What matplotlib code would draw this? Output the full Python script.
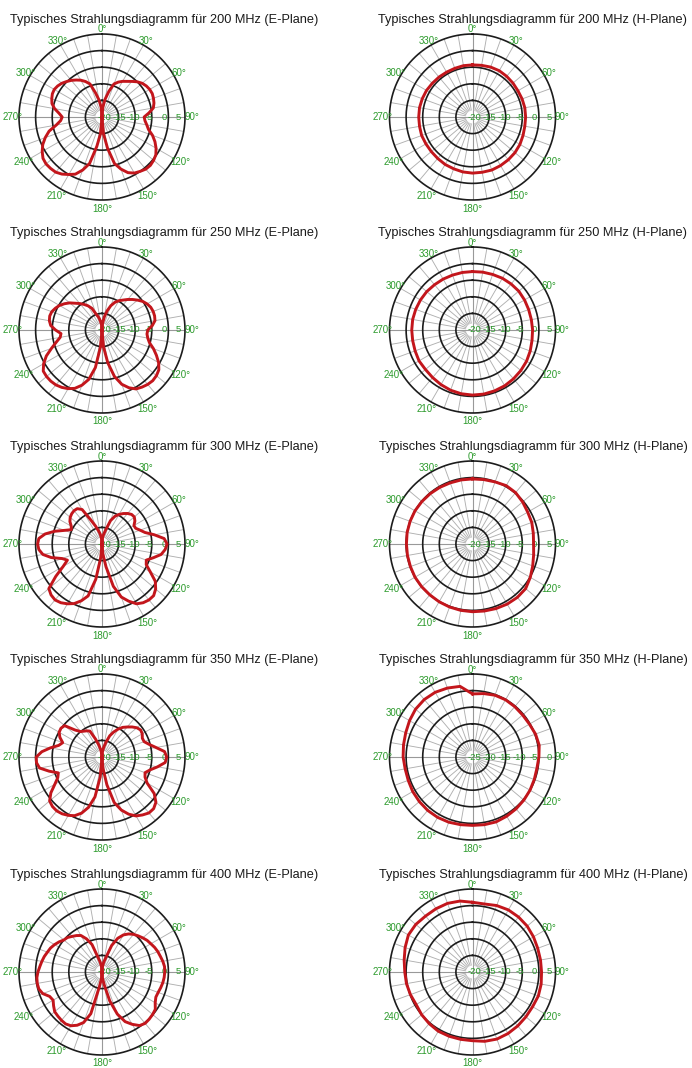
import numpy as np
import matplotlib
matplotlib.use("Agg")
import matplotlib.pyplot as plt

# ---------------- data (dB values) ----------------
angles_e = np.arange(0, 360, 5)     # E-plane sample angles (deg)
angles_h = np.arange(0, 360, 10)    # H-plane sample angles (deg)

e200 = [-20, -17, -14.5, -12, -9.4, -8.4, -7.6, -6.9, -6.0, -5.0, -4.2, -3.7, -3.4, -3.3, -3.5, -3.8, -4.3, -5.8,
        -7.3, -7.0, -6.3, -5.5, -3.8, -2.4, -1.2, -0.2, 0.3, 0.6, 0.5, 0.0, -0.5, -1.5, -3.3, -5.5, -10.5, -15,
        -20, -15, -11, -5.5, -3.0, -1.0, 0.0, 1.0, 1.7, 1.9, 2.0, 1.7, 0.8, -0.3, -1.8, -3.5, -6.0, -7.5,
        -8.0, -7.0, -5.5, -4.4, -3.9, -3.5, -3.4, -3.7, -4.2, -4.9, -5.6, -6.4, -7.2, -8.2, -9.4, -12.5, -14.8, -17]
e250 = [-20, -18, -16, -14, -12.2, -10.8, -9.8, -9.0, -8.0, -7.0, -6.0, -5.0, -4.3, -3.8, -3.6, -3.6, -3.8, -4.8,
        -6.2, -6.4, -6.0, -5.2, -3.5, -1.9, -0.3, 0.9, 1.4, 1.6, 1.4, 1.0, 0.5, -0.8, -2.6, -5.5, -10, -15,
        -20, -15, -8.5, -4.6, -2.3, -0.6, 0.4, 1.1, 1.6, 1.8, 1.8, 1.6, 0.3, -1.5, -3.8, -5.7, -7.2, -7.6,
        -6.0, -4.5, -3.9, -3.7, -3.9, -4.5, -5.2, -6.2, -7.3, -8.6, -9.6, -10.6, -11.6, -12.8, -15, -16, -17.2, -18.5]
e300 = [-20, -18, -17, -15.5, -12.5, -10.8, -9.7, -8.8, -8.0, -7.4, -7.3, -7.9, -8.9, -8.8, -7.8, -6.6, -4.0, -1.2,
        -0.4, -0.9, -1.9, -4.0, -5.8, -5.3, -3.2, -0.4, 1.1, 2.0, 2.0, 1.6, 0.8, -1.0, -3.0, -6.8, -13, -17,
        -20, -16, -9.2, -3.8, -1.8, -0.2, 0.8, 1.6, 2.0, 1.7, 0.9, -3.0, -6.5, -8.5, -7.2, -4.2, -1.9, -0.9,
        -0.6, -0.9, -2.6, -5.2, -8.0, -9.8, -9.3, -8.2, -7.5, -7.1, -6.9, -7.0, -8.0, -12.0, -14.2, -15.8, -17, -18.5]
e350 = [-20, -18.5, -17, -15.4, -13.2, -11.7, -10.3, -9.1, -8.2, -7.2, -6.3, -5.8, -6.0, -6.6, -6.5, -5.3, -3.5, -1.1,
        -0.5, -0.9, -3.0, -5.0, -6.2, -5.7, -4.3, -0.8, 1.2, 2.0, 2.0, 1.3, 0.5, -1.0, -3.0, -5.8, -11.5, -16.5,
        -20, -14, -7.8, -4.3, -2.0, -0.5, 0.3, 0.9, 1.2, 1.1, 0.6, -1.2, -3.6, -5.3, -6.0, -3.5, -0.9, -0.2,
        -0.2, -1.8, -4.2, -6.5, -7.4, -6.0, -5.1, -4.9, -5.3, -8.5, -10.0, -10.5, -10.9, -11.4, -14.2, -16.2, -17.8, -19]
e400 = [-20, -18.5, -17, -15.5, -11.5, -8.8, -7.1, -6.0, -5.2, -4.6, -4.0, -3.4, -3.0, -2.5, -2.1, -1.8, -1.4, -1.1,
        -1.1, -1.2, -1.4, -1.7, -2.0, -2.1, -1.5, -0.4, -0.1, 0.1, 0.2, -0.3, -1.8, -3.5, -6.5, -11, -16, -18,
        -20, -18, -15.5, -7.0, -3.8, -2.3, -1.3, -0.9, -1.0, -1.2, -1.4, -2.2, -3.0, -2.6, -1.0, -0.3, -0.2, -0.3,
        -0.7, -1.2, -1.6, -2.0, -2.5, -2.9, -3.5, -4.2, -5.0, -5.3, -6.0, -6.6, -7.3, -9.0, -11.2, -15.5, -17, -18.5]

h200 = [-4.3, -4.2, -4.0, -3.9, -4.0, -4.1, -4.2, -4.1, -4.0, -4.0, -4.0, -3.8, -3.5, -3.3, -3.2, -3.1, -3.0, -3.1,
        -3.1, -3.2, -3.4, -3.5, -3.7, -3.8, -3.8, -3.7, -3.8, -3.8, -3.8, -3.9, -4.0, -4.2, -4.3, -4.4, -4.4, -4.3]
h250 = [-2.4, -2.3, -2.2, -2.0, -1.9, -1.8, -1.9, -2.0, -2.0, -1.9, -1.8, -1.5, -1.2, -1.0, -0.8, -0.6, -0.5, -0.4,
        -0.4, -0.5, -0.7, -1.0, -1.3, -1.5, -1.4, -1.6, -1.7, -1.7, -1.7, -1.8, -1.9, -2.0, -2.2, -2.3, -2.4, -2.4]
h300 = [-0.4, -0.3, -0.1, 0.3, 0.2, -0.3, -0.8, -1.0, -1.4, -1.6, -1.3, -0.7, 0.1, 0.9, 1.0, 0.9, 0.7, 0.5,
        0.4, 0.3, 0.2, 0.1, 0.0, 0.0, 0.0, -0.1, -0.1, -0.1, 0.0, 0.0, 0.0, -0.1, -0.2, -0.3, -0.4, -0.4]
h350 = [-6.0, -5.6, -5.2, -5.1, -5.2, -5.3, -5.2, -4.8, -4.6, -5.0, -5.3, -5.2, -5.0, -4.8, -4.6, -4.4, -4.2, -4.3,
        -4.4, -4.3, -4.1, -4.0, -4.0, -4.1, -4.2, -4.4, -4.4, -4.1, -3.9, -3.6, -3.1, -2.6, -2.4, -2.5, -2.9, -3.4]
h400 = [1.0, 0.8, 1.3, 1.6, 1.6, 1.5, 1.2, 0.9, 0.8, 0.8, 1.0, 1.1, 0.9, 1.0, 1.2, 1.4, 1.5, 1.2,
        0.7, 0.6, 0.6, 0.6, 0.3, 0.0, -0.4, -0.1, 0.2, 0.4, 0.9, 1.6, 2.3, 2.3, 2.0, 2.0, 2.0, 1.7]

frequencies = [200, 250, 300, 350, 400]
e_series = [e200, e250, e300, e350, e400]
h_series = [h200, h250, h300, h350, h400]
e_ranges = [(-20, 5), (-20, 5), (-20, 5), (-20, 5), (-20, 5)]
h_ranges = [(-20, 5), (-20, 5), (-20, 5), (-25, 0), (-20, 5)]

angle_ticks = list(range(0, 360, 30))
angle_labels = [f"{a}°" for a in angle_ticks]
spoke_step = 10

# ---------------- layout / style ----------------
W, H = 692, 1068
R = 83                      # polar radius in px
col_cx = [102, 472.5]
row_cy = [117, 330, 544, 757, 972]
title_cx = [164.5, 533]
GREEN = "#2b9a2b"
RED = "#c3161c"
FONT = "Liberation Sans"

fig = plt.figure(figsize=(W / 100, H / 100), dpi=100)


def polar_panel(cx, cy, theta_deg, values, rng, title, tcx):
    rmin, rmax = rng
    ax = fig.add_axes([(cx - R) / W, 1 - (cy + R) / H, 2 * R / W, 2 * R / H], projection="polar")
    ax.set_theta_zero_location("N")
    ax.set_theta_direction(-1)
    ax.set_ylim(rmin, rmax)
    ax.grid(False)
    ax.set_xticks([])
    ax.set_yticks([])
    ax.spines["polar"].set_visible(False)
    ax.patch.set_visible(False)
    dpp = (rmax - rmin) / R  # dB per pixel
    # spokes
    for a in range(0, 360, spoke_step):
        if a % 90 == 0:
            ax.plot([np.deg2rad(a)] * 2, [rmin, rmax], color="#999999", lw=0.8, zorder=1)
        else:
            ax.plot([np.deg2rad(a)] * 2, [rmin + 7 * dpp, rmax], color="#b0b0b0", lw=0.65, zorder=1)
    # rings
    t = np.linspace(0, 2 * np.pi, 400)
    for rv in np.arange(rmin + 5, rmax + 0.1, 5):
        ax.plot(t, np.full_like(t, rv), color="#1c1c1c", lw=1.2, zorder=2, clip_on=False)
    # radial labels
    for rv in np.arange(rmin, rmax + 0.1, 5):
        pos = rmin + 0.6 + 0.9 * (rv - rmin)
        ax.text(np.pi / 2, pos, f"{int(rv)}", color=GREEN, fontsize=6.8, family=FONT,
                ha="center", va="center", zorder=3)
    # angle labels
    for a, lab in zip(angle_ticks, angle_labels):
        d = 89.5 - 2.0 * np.cos(np.deg2rad(a))
        ax.text(np.deg2rad(a), rmin + d * dpp, lab, color=GREEN, fontsize=7, family=FONT,
                ha="center", va="center", clip_on=False)
    # data curve
    th = np.deg2rad(np.append(theta_deg, theta_deg[0] + 360))
    v = np.append(values, values[0])
    ax.plot(th, v, color=RED, lw=2.1, zorder=4, solid_joinstyle="round", clip_on=False)
    fig.text(tcx / W, 1 - (cy - 94) / H, title, ha="center", va="baseline",
             fontsize=9.2, family=FONT, color="#1a1a1a")


for i, f in enumerate(frequencies):
    polar_panel(col_cx[0], row_cy[i], angles_e, e_series[i], e_ranges[i],
                f"Typisches Strahlungsdiagramm für {f} MHz (E-Plane)", title_cx[0])
    polar_panel(col_cx[1], row_cy[i], angles_h, h_series[i], h_ranges[i],
                f"Typisches Strahlungsdiagramm für {f} MHz (H-Plane)", title_cx[1])

fig.savefig("out.png", dpi=100, facecolor="white")
